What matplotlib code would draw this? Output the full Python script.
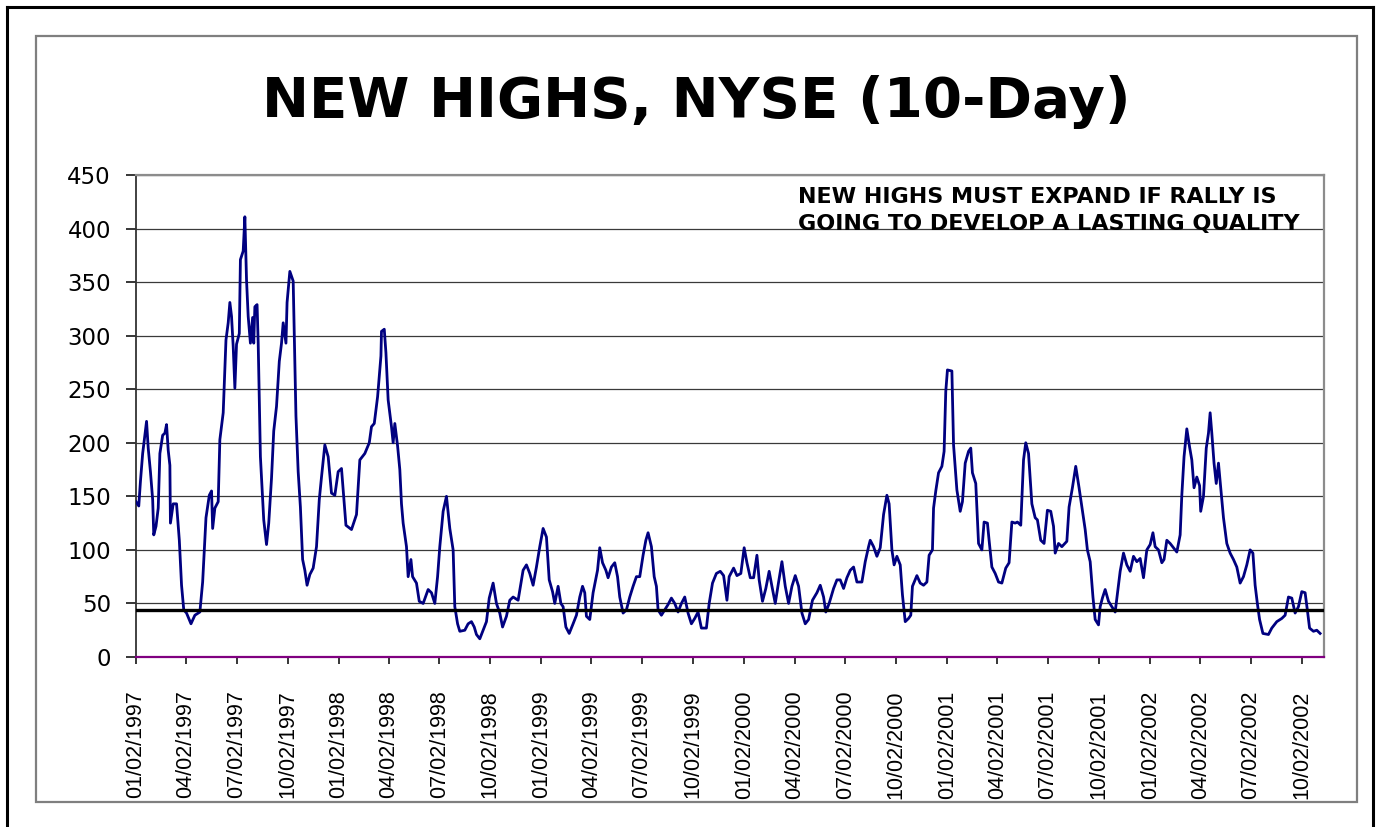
import numpy as np
import pandas as pd
import matplotlib
matplotlib.use("Agg")
import matplotlib.pyplot as plt
from matplotlib import font_manager
from matplotlib.patches import Rectangle
from matplotlib.lines import Line2D

# days after 01/02/1997
day_offset = [
    0, 5, 8, 12, 16, 19, 22, 26, 30, 32, 36, 40, 43, 48, 52, 55, 58, 61, 62, 67,
    73, 78, 82, 86, 91, 99, 106, 115, 120, 126, 132, 136, 138, 142, 148, 151, 157, 162, 166, 169,
    172, 175, 178, 181, 186, 188, 193, 196, 199, 202, 206, 210, 212, 214, 218, 220, 224, 230, 235, 239,
    244, 248, 253, 258, 262, 265, 270, 272, 277, 283, 288, 292, 296, 300, 304, 308, 313, 319, 325, 330,
    334, 340, 346, 352, 358, 364, 370, 373, 378, 388, 397, 403, 412, 420, 424, 429, 435, 441, 442, 447,
    450, 454, 460, 463, 466, 471, 475, 478, 481, 487, 490, 495, 498, 505, 510, 517, 526, 532, 538, 543,
    547, 553, 559, 565, 571, 574, 579, 583, 592, 598, 604, 609, 613, 619, 625, 631, 636, 643, 649, 655,
    660, 667, 673, 679, 688, 697, 703, 709, 715, 721, 727, 733, 739, 744, 750, 754, 760, 765, 769, 774,
    780, 787, 793, 799, 804, 808, 811, 817, 823, 831, 835, 840, 846, 850, 856, 862, 867, 871, 877, 883,
    889, 895, 901, 907, 913, 918, 922, 928, 933, 937, 940, 946, 952, 958, 964, 970, 976, 982, 988, 994,
    1000, 1006, 1012, 1018, 1027, 1032, 1038, 1045, 1052, 1058, 1064, 1068, 1076, 1082, 1089, 1095, 1100, 1106, 1112, 1118,
    1122, 1128, 1134, 1140, 1145, 1151, 1157, 1163, 1169, 1175, 1181, 1187, 1193, 1199, 1205, 1211, 1218, 1226, 1232, 1238,
    1242, 1248, 1256, 1262, 1268, 1274, 1280, 1286, 1292, 1298, 1307, 1313, 1319, 1322, 1328, 1334, 1340, 1346, 1352, 1356,
    1361, 1365, 1370, 1376, 1380, 1385, 1391, 1395, 1398, 1406, 1412, 1418, 1424, 1428, 1434, 1436, 1440, 1445, 1451, 1455,
    1458, 1461, 1469, 1472, 1478, 1484, 1488, 1493, 1499, 1503, 1506, 1512, 1517, 1523, 1527, 1533, 1536, 1541, 1547, 1553,
    1559, 1566, 1572, 1577, 1583, 1587, 1593, 1598, 1602, 1607, 1613, 1619, 1623, 1629, 1635, 1641, 1647, 1652, 1655, 1661,
    1667, 1676, 1680, 1686, 1692, 1698, 1704, 1709, 1713, 1718, 1723, 1727, 1733, 1736, 1740, 1745, 1751, 1757, 1763, 1769,
    1772, 1778, 1784, 1790, 1796, 1802, 1808, 1814, 1820, 1826, 1831, 1835, 1841, 1847, 1851, 1856, 1862, 1868, 1874, 1880,
    1883, 1887, 1892, 1897, 1901, 1905, 1910, 1915, 1917, 1922, 1927, 1931, 1934, 1937, 1941, 1945, 1949, 1952, 1958, 1964,
    1970, 1976, 1982, 1988, 1994, 2000, 2006, 2011, 2015, 2019, 2023, 2029, 2039, 2045, 2054, 2063, 2069, 2075, 2081, 2087,
    2093, 2099, 2105, 2109, 2113, 2120, 2126, 2132,
]
new_highs = [
    145, 141, 164, 190, 207, 220, 195, 173, 147, 114, 122, 139, 190, 207, 209, 217, 193, 179, 125, 143,
    143, 109, 67, 44, 41, 31, 39, 42, 70, 130, 151, 155, 120, 139, 145, 203, 228, 296, 312, 331,
    318, 290, 251, 292, 302, 371, 379, 411, 352, 318, 293, 317, 293, 327, 329, 293, 187, 128, 105, 125,
    167, 211, 234, 276, 293, 312, 293, 331, 360, 351, 225, 173, 140, 91, 81, 67, 77, 83, 103, 147,
    168, 198, 187, 153, 151, 173, 176, 156, 123, 119, 133, 184, 190, 200, 215, 218, 243, 281, 304, 306,
    284, 240, 215, 200, 218, 197, 175, 143, 125, 103, 75, 91, 75, 69, 52, 50, 63, 60, 50, 75,
    103, 136, 150, 120, 100, 47, 31, 24, 25, 31, 33, 28, 21, 17, 25, 33, 55, 69, 50, 41,
    28, 38, 53, 56, 53, 81, 86, 78, 67, 84, 103, 120, 112, 72, 61, 50, 66, 50, 47, 28,
    22, 31, 39, 56, 66, 60, 38, 35, 60, 81, 102, 88, 81, 74, 84, 88, 75, 56, 41, 44,
    56, 66, 75, 75, 95, 109, 116, 103, 75, 66, 44, 39, 44, 49, 55, 50, 42, 50, 56, 41,
    31, 36, 42, 27, 27, 50, 69, 78, 80, 76, 53, 75, 83, 76, 78, 102, 88, 74, 74, 95,
    72, 52, 64, 80, 66, 50, 70, 89, 66, 50, 66, 76, 66, 41, 31, 35, 53, 60, 67, 56,
    42, 50, 64, 72, 72, 64, 74, 81, 84, 70, 70, 89, 103, 109, 103, 94, 102, 133, 151, 143,
    100, 86, 94, 86, 58, 33, 36, 39, 66, 76, 69, 67, 70, 95, 100, 139, 155, 172, 178, 192,
    248, 268, 267, 198, 156, 136, 145, 181, 192, 195, 172, 162, 106, 100, 126, 125, 109, 84, 78, 70,
    69, 83, 88, 126, 125, 126, 123, 184, 200, 190, 143, 130, 128, 109, 106, 137, 136, 122, 97, 106,
    103, 108, 140, 158, 178, 158, 137, 119, 100, 89, 56, 35, 30, 47, 55, 63, 52, 47, 42, 67,
    80, 97, 86, 80, 94, 89, 92, 74, 100, 105, 116, 103, 100, 88, 91, 109, 106, 102, 98, 114,
    151, 187, 213, 196, 184, 158, 168, 160, 136, 150, 195, 209, 228, 209, 181, 162, 181, 164, 130, 106,
    97, 91, 84, 69, 75, 86, 100, 97, 67, 50, 35, 22, 21, 27, 33, 36, 39, 56, 55, 41,
    47, 61, 60, 44, 27, 24, 25, 22,
]
threshold = 44
start_date = "1997-01-02"
tick_labels = [
    "01/02/1997", "04/02/1997", "07/02/1997", "10/02/1997",
    "01/02/1998", "04/02/1998", "07/02/1998", "10/02/1998",
    "01/02/1999", "04/02/1999", "07/02/1999", "10/02/1999",
    "01/02/2000", "04/02/2000", "07/02/2000", "10/02/2000",
    "01/02/2001", "04/02/2001", "07/02/2001", "10/02/2001",
    "01/02/2002", "04/02/2002", "07/02/2002", "10/02/2002",
]
y_ticks = list(range(0, 451, 50))
title = "NEW HIGHS, NYSE (10-Day)"
note = "NEW HIGHS MUST EXPAND IF RALLY IS\nGOING TO DEVELOP A LASTING QUALITY"

dates = pd.Timestamp(start_date) + pd.to_timedelta(day_offset, unit="D")
tick_dates = pd.to_datetime(tick_labels, format="%m/%d/%Y")

# narrow face for the rotated date labels, if there is one
installed = {f.name for f in font_manager.fontManager.ttflist}
if "Liberation Sans Narrow" in installed:
    date_font, date_size = "Liberation Sans Narrow", 18.5
elif "DejaVu Sans Condensed" in installed:
    date_font, date_size = "DejaVu Sans Condensed", 15.0
else:
    date_font, date_size = "Liberation Sans", 15.5
note_font = "DejaVu Sans Condensed" if "DejaVu Sans Condensed" in installed else "DejaVu Sans"
note_size = 17.5 if note_font == "DejaVu Sans Condensed" else 16

W, H = 1379, 827
fig = plt.figure(figsize=(W / 100, H / 100), dpi=100)
fig.patch.set_facecolor("white")

# outer black frame (open at the bottom) and inner grey chart frame
for xs, ys in [([7, 7], [827, 7]), ([7, 1373], [7, 7]), ([1373, 1373], [7, 827])]:
    fig.add_artist(Line2D([x / W for x in xs], [1 - y / H for y in ys],
                          color="black", lw=2.2, transform=fig.transFigure))
fig.add_artist(Rectangle((36 / W, 1 - 802 / H), (1357 - 36) / W, (802 - 36) / H,
                         fill=False, edgecolor="#7f7f7f", lw=1.6, transform=fig.transFigure))

ax = fig.add_axes([136 / W, 1 - 657 / H, (1324 - 136) / W, (657 - 175) / H])
ax.plot(dates, new_highs, color="#000080", lw=2.0, zorder=3)
ax.axhline(threshold, color="black", lw=2.4, zorder=4)

ax.set_ylim(0, 450)
ax.set_xlim(pd.Timestamp(start_date), pd.Timestamp(start_date) + pd.Timedelta(days=2139))
ax.set_yticks(y_ticks)
ax.yaxis.grid(True, color="#3a3a3a", lw=0.9)
ax.set_axisbelow(True)

ax.set_xticks(tick_dates)
ax.set_xticklabels(tick_labels, rotation=90, family=date_font, fontsize=date_size)
for lab in ax.get_yticklabels():
    lab.set_family("DejaVu Sans")
    lab.set_fontsize(16.5)

ax.tick_params(axis="y", direction="out", length=7, width=1.1, pad=11, colors="black")
ax.tick_params(axis="x", direction="out", length=5, width=1.1, pad=19, colors="black")

ax.spines["left"].set_color("#333333")
ax.spines["left"].set_linewidth(1.3)
ax.spines["bottom"].set_color("#800080")
ax.spines["bottom"].set_linewidth(1.6)
ax.spines["top"].set_color("#8c8c8c")
ax.spines["top"].set_linewidth(1.6)
ax.spines["right"].set_color("#8c8c8c")
ax.spines["right"].set_linewidth(1.6)

fig.text(696 / W, 1 - 102 / H, title, ha="center", va="center",
         fontsize=40.5, fontweight="bold", family="DejaVu Sans")
fig.text(798 / W, 1 - 187 / H, note, ha="left", va="top",
         fontsize=note_size, fontweight="bold", family=note_font, linespacing=1.45)

fig.savefig("out.png", dpi=100)
